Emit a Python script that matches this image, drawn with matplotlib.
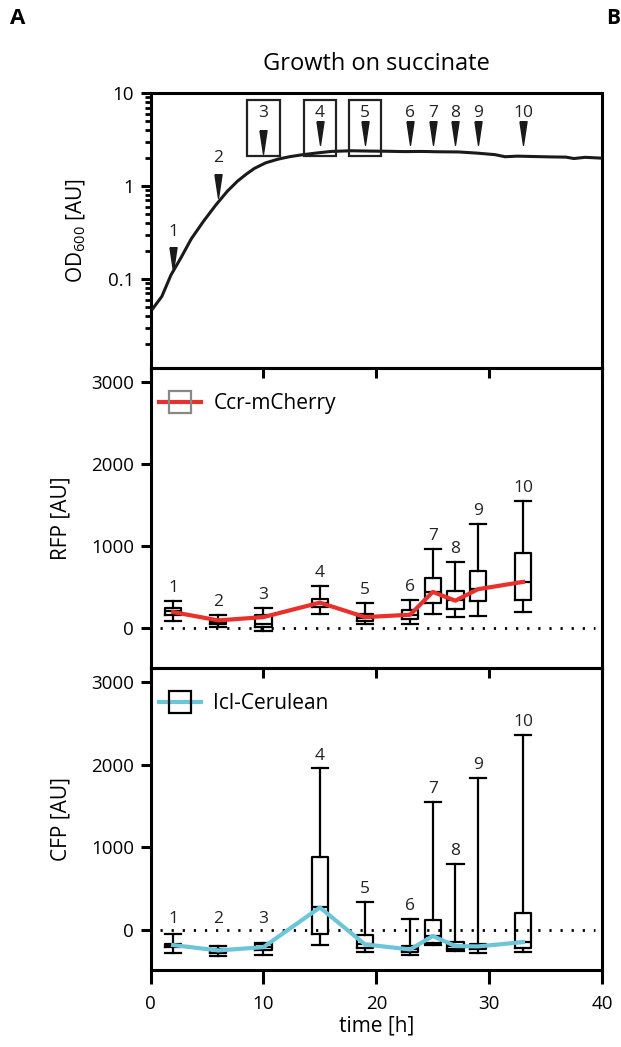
import numpy as np
import matplotlib
matplotlib.use("Agg")
import matplotlib.pyplot as plt
from matplotlib.lines import Line2D
from matplotlib.patches import Rectangle

plt.rcParams['font.family'] = ['Open Sans', 'DejaVu Sans']
plt.rcParams['mathtext.default'] = 'regular'

# growth curve (OD600)
od_time = [0.2, 1.0, 1.8, 2.7, 3.6, 4.7, 5.8, 6.8, 7.7, 8.5, 9.2, 10.2, 11.3, 12.3,
           13.4, 14.7, 16.0, 17.8, 19.5, 21.0, 22.5, 24.0, 25.5, 27.3, 29.0, 30.5,
           31.4, 32.5, 34.0, 35.5, 36.8, 37.5, 38.5, 39.9]
od_value = [0.048, 0.065, 0.11, 0.17, 0.27, 0.42, 0.63, 0.88, 1.13, 1.35, 1.55, 1.78,
            1.95, 2.07, 2.17, 2.27, 2.36, 2.40, 2.38, 2.37, 2.35, 2.36, 2.34, 2.33,
            2.26, 2.18, 2.07, 2.10, 2.08, 2.06, 2.05, 1.98, 2.04, 2.0]

# sampling points
samples = ['1', '2', '3', '4', '5', '6', '7', '8', '9', '10']
sample_time = [2, 6, 10, 15, 19, 23, 25, 27, 29, 33]
arrow_y = [0.164, 1.0, 3.0, 3.76, 3.76, 3.76, 3.76, 3.76, 3.76, 3.76]
arrow_label_y = [0.32, 2.0, 6.1, 6.1, 6.1, 6.1, 6.1, 6.1, 6.1, 6.1]
boxed = ['3', '4', '5']

# RFP (Ccr-mCherry): whislo, q1, med, q3, whishi, mean line
rfp_whislo = [86, 12, -40, 168, 45, 45, 168, 135, 143, 196]
rfp_q1 = [156, 45, 12, 258, 86, 115, 311, 229, 331, 348]
rfp_med = [205, 74, 54, 311, 127, 164, 442, 340, 475, 564]
rfp_q3 = [245, 103, 156, 360, 168, 217, 606, 450, 696, 913]
rfp_whishi = [327, 164, 250, 512, 307, 340, 962, 802, 1272, 1546]
rfp_line = [196, 95, 135, 311, 135, 164, 442, 335, 475, 564]

# CFP (Icl-Cerulean)
cfp_whislo = [-277, -317, -297, -187, -269, -297, -187, -256, -281, -269]
cfp_q1 = [-208, -277, -248, -53, -216, -269, -155, -228, -236, -216]
cfp_med = [-183, -248, -208, 272, -175, -236, -73, -195, -199, -147]
cfp_q3 = [-167, -236, -175, 883, -65, -195, 122, -147, -167, 211]
cfp_whishi = [-53, -199, -155, 1954, 333, 130, 1551, 802, 1835, 2357]
cfp_line = [-183, -248, -208, 272, -175, -236, -73, -195, -199, -147]

red = '#e8312b'
cyan = '#6cc5d9'

fig = plt.figure(figsize=(6.21, 10.47), dpi=100)
ax1 = fig.add_axes([0.2425, 0.6485, 0.727, 0.2625])
ax2 = fig.add_axes([0.2425, 0.362, 0.727, 0.2865])
ax3 = fig.add_axes([0.2425, 0.0735, 0.727, 0.2885])

for ax in (ax1, ax2, ax3):
    ax.set_xlim(0, 40)
    ax.set_xticks([0, 10, 20, 30, 40])
    for s in ax.spines.values():
        s.set_linewidth(2.2)
    ax.tick_params(direction='out', width=2.2, length=7, labelsize=13.5, pad=5)
    ax.tick_params(which='minor', direction='out', width=2.0, length=4)
    ax.patch.set_alpha(0)

# ---- top: growth curve
ax1.plot(od_time, od_value, color='#1a1a1a', lw=2.2, zorder=3)
ax1.set_yscale('log')
ax1.set_ylim(0.011, 10)
ax1.set_yticks([0.1, 1, 10])
ax1.set_yticklabels(['0.1', '1', '10'])
ax1.tick_params(axis='x', labelbottom=False)
ax1.set_ylabel('OD$_{600}$ [AU]', fontsize=15, labelpad=14)
ax1.set_title('Growth on succinate', fontsize=17, pad=17)

tri = [(-0.3, 1), (0.3, 1), (0, -1), (-0.3, 1)]
ax1.plot(sample_time, arrow_y, linestyle='none', marker=tri, markersize=17,
         color='#1a1a1a', zorder=4)
for s, t, ly in zip(samples, sample_time, arrow_label_y):
    ax1.text(t, ly, s, ha='center', va='center', fontsize=12.5, color='#222222')
    if s in boxed:
        ax1.add_patch(Rectangle((t - 1.45, 2.1), 2.9, 8.55 - 2.1, fill=False,
                                edgecolor='#222222', lw=1.6, zorder=5))


def draw_boxes(ax, lo, q1, med, q3, hi, line, color, label, legend_edge):
    stats = []
    for i in range(len(samples)):
        stats.append(dict(whislo=lo[i], q1=q1[i], med=med[i], q3=q3[i],
                          whishi=hi[i], fliers=[]))
    ax.bxp(stats, positions=sample_time, widths=1.45, manage_ticks=False,
           boxprops=dict(color='black', lw=1.6),
           whiskerprops=dict(color='black', lw=1.6),
           capprops=dict(color='black', lw=1.6),
           medianprops=dict(color='black', lw=1.6), capwidths=1.45)
    ax.plot(sample_time, line, color=color, lw=3.0, zorder=4)
    ax.axhline(0, xmin=0.02, xmax=0.985, color='black', lw=2.0,
               linestyle=(0, (0.8, 3.2)), zorder=1)
    for s, t, h in zip(samples, sample_time, hi):
        ax.text(t, max(h + 60, 40), s, ha='center', va='bottom', fontsize=12.5,
                color='#222222')
    ax.set_ylim(-485, 3170)
    ax.set_yticks([0, 1000, 2000, 3000])
    handle = Line2D([], [], color=color, lw=3.0, marker='s', markersize=16,
                    markerfacecolor='none', markeredgecolor=legend_edge,
                    markeredgewidth=1.6)
    ax.legend([handle], [label], loc='upper left', bbox_to_anchor=(0.01, 0.93),
              frameon=False, fontsize=15, handlelength=2.0, borderaxespad=0,
              borderpad=0.2, handletextpad=0.6)


draw_boxes(ax2, rfp_whislo, rfp_q1, rfp_med, rfp_q3, rfp_whishi, rfp_line,
           red, 'Ccr-mCherry', '#888888')
ax2.tick_params(axis='x', labelbottom=False)
ax2.set_ylabel('RFP [AU]', fontsize=15, labelpad=14)

draw_boxes(ax3, cfp_whislo, cfp_q1, cfp_med, cfp_q3, cfp_whishi, cfp_line,
           cyan, 'Icl-Cerulean', 'black')
ax3.set_ylabel('CFP [AU]', fontsize=15, labelpad=14)
ax3.set_xlabel('time [h]', fontsize=15, labelpad=2)
ax3.tick_params(axis='x', length=10, pad=8)

fig.text(0.016, 0.982, 'A', fontsize=16, fontweight='bold', va='center')
fig.text(0.976, 0.982, 'B', fontsize=15, fontweight='bold', va='center')

fig.savefig('out.png', dpi=100)
